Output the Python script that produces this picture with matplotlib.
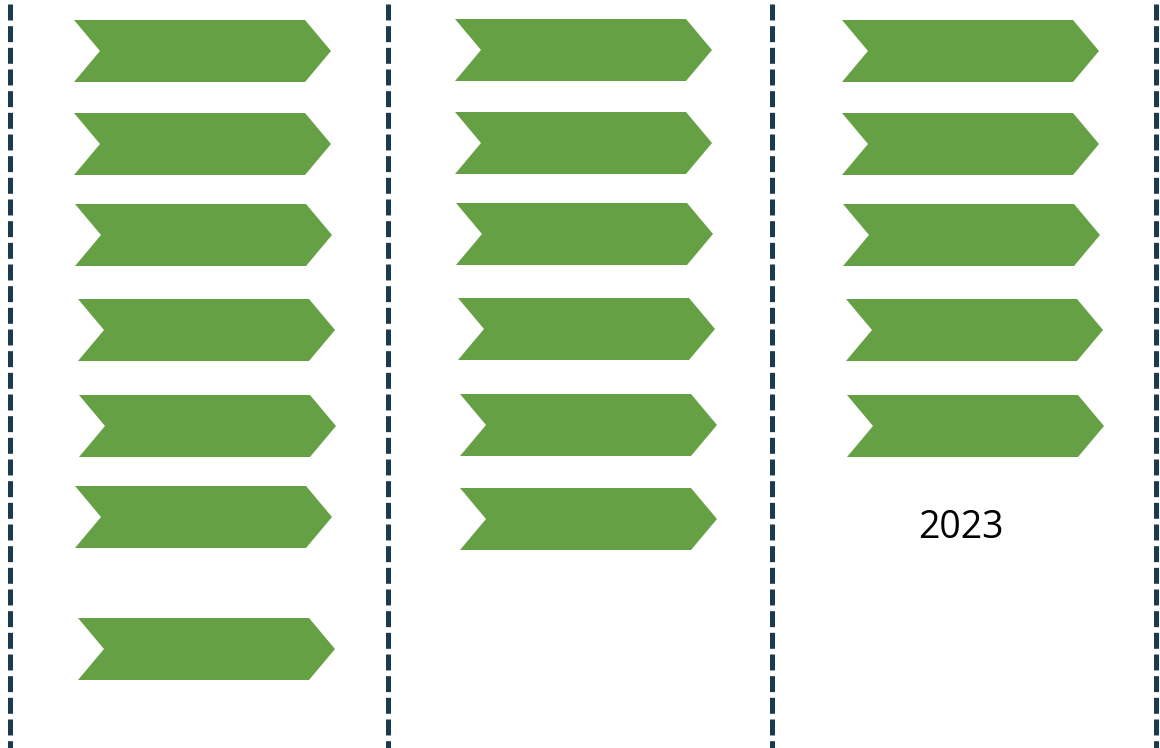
import matplotlib
matplotlib.use("Agg")
import matplotlib.pyplot as plt
from matplotlib.patches import Polygon

# chevron layout (pixel coords, y down)
col1_left = [74, 74, 75, 78, 79, 75, 78]
col1_top = [20, 113, 204, 299, 395, 486, 618]
col2_left = [455, 455, 456, 458, 460, 460]
col2_top = [19, 112, 203, 298, 394, 488]
col3_left = [842, 842, 843, 846, 847]
col3_top = [20, 113, 204, 299, 395]
divider_x = [10, 388, 772, 1156]
label_text = "2023"

CHEV_W = 257
CHEV_H = 62
NOTCH = 26
GREEN = "#65a044"
NAVY = "#1b3a4f"

plt.rcParams["lines.scale_dashes"] = False

fig = plt.figure(figsize=(11.6, 7.48), dpi=100)
ax = fig.add_axes([0, 0, 1, 1])
ax.set_xlim(0, 1160)
ax.set_ylim(748, 0)
ax.axis("off")


def chevron(x, y):
    pts = [
        (x, y),
        (x + CHEV_W - NOTCH, y),
        (x + CHEV_W, y + CHEV_H / 2),
        (x + CHEV_W - NOTCH, y + CHEV_H),
        (x, y + CHEV_H),
        (x + NOTCH, y + CHEV_H / 2),
    ]
    return Polygon(pts, closed=True, facecolor=GREEN, edgecolor="none")


for lefts, tops in [(col1_left, col1_top), (col2_left, col2_top), (col3_left, col3_top)]:
    for x, y in zip(lefts, tops):
        ax.add_patch(chevron(x, y))

for x in divider_x:
    ln, = ax.plot([x, x], [4, 748], color=NAVY, linewidth=3.6, solid_capstyle="butt")
    ln.set_dashes([11.5, 4.1])
    ln.set_dash_capstyle("butt")

ax.text(961, 528, label_text, fontsize=27, family=["Open Sans", "DejaVu Sans"],
        color="black", ha="center", va="center")

fig.savefig("out.png", dpi=100)
